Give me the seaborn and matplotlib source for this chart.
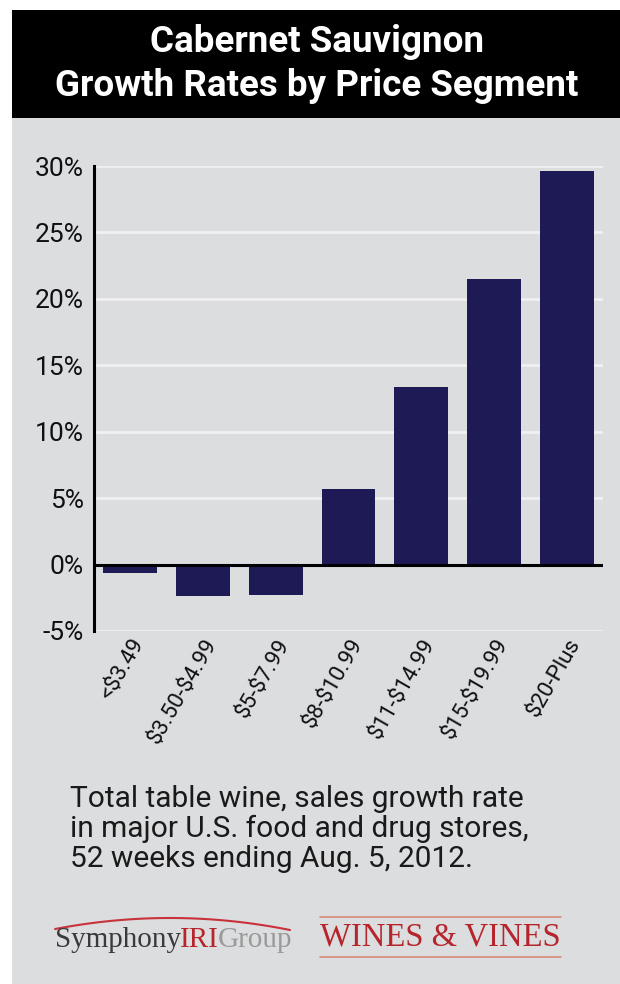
import numpy as np
import pandas as pd
import seaborn as sns
import matplotlib.pyplot as plt
from matplotlib.patches import Rectangle
from matplotlib.lines import Line2D

segments = ["<$3.49", "$3.50-$4.99", "$5-$7.99", "$8-$10.99",
            "$11-$14.99", "$15-$19.99", "$20-Plus"]
growth = [-0.6, -2.4, -2.3, 5.7, 13.4, 21.5, 29.6]
yticks = [-5, 0, 5, 10, 15, 20, 25, 30]

title_lines = "Cabernet Sauvignon\nGrowth Rates by Price Segment"
caption = ("Total table wine, sales growth rate\n"
           "in major U.S. food and drug stores,\n"
           "52 weeks ending Aug. 5, 2012.")

bg = "#DCDDDF"
navy = "#1E1A55"
red = "#B5252B"

sns.set_style("white")
plt.rcParams["font.family"] = ["Roboto", "DejaVu Sans"]
plt.rcParams["text.parse_math"] = False

W, H = 620, 984
fig = plt.figure(figsize=(W / 100, H / 100), dpi=100)
fig.patch.set_facecolor("white")

def fx(px):
    return px / W

def fy(py):
    return 1 - py / H

# gray panel and black header
fig.patches.append(Rectangle((fx(12), 0), 1 - fx(12), fy(10), transform=fig.transFigure,
                             facecolor=bg, edgecolor="none", zorder=-2))
fig.patches.append(Rectangle((fx(12), fy(118)), 1 - fx(12), fy(10) - fy(118),
                             transform=fig.transFigure, facecolor="black",
                             edgecolor="none", zorder=-1))
fig.text(fx(317), fy(64), title_lines, color="white", fontsize=26.5, fontweight="bold",
         ha="center", va="center", linespacing=1.25)

ax = fig.add_axes([fx(94), fy(631), fx(603) - fx(94), fy(166) - fy(631)])
ax.set_facecolor(bg)
df = pd.DataFrame({"segment": segments, "growth": growth})
sns.barplot(data=df, x="segment", y="growth", color=navy, width=0.74,
            saturation=1, ax=ax, zorder=3, edgecolor="none")

ax.set_ylim(-5, 30)
ax.set_xlim(-0.5, len(segments) - 0.5)
ax.set_yticks(yticks)
ax.set_yticklabels([f"{t}%" for t in yticks], fontsize=19, color="#111111")
ax.set_xticks(range(len(segments)))
ax.set_xticklabels(segments, rotation=60, ha="right", va="top", rotation_mode="anchor",
                   fontsize=16, color="#111111")
ax.tick_params(axis="y", length=0, pad=7.5)
ax.tick_params(axis="x", length=0, pad=3)
for t in yticks:
    if t != 0:
        ax.axhline(t, color="#F0F0F1", lw=2, zorder=1)
ax.axhline(0, color="black", lw=2.2, zorder=4)
ax.set_xlabel("")
ax.set_ylabel("")
for s in ["top", "right", "bottom"]:
    ax.spines[s].set_visible(False)
ax.spines["left"].set_color("black")
ax.spines["left"].set_linewidth(2.2)

fig.text(fx(70), fy(829), caption, fontsize=21.5, color="#1A1A1A",
         ha="left", va="center", linespacing=1.08)

# logos
renderer = fig.canvas.get_renderer()
x = fx(55)
for word, col in [("Symphony", "#3A3A3A"), ("IRI", red), ("Group", "#9A9A9A")]:
    t = fig.text(x, fy(940), word, family="Liberation Serif", fontsize=21,
                 color=col, ha="left", va="center")
    bb = t.get_window_extent(renderer)
    x += bb.width / W - 0.002
arc_x = np.linspace(fx(55), fx(290), 60)
arc_y = fy(918) - (fy(918) - fy(930)) * ((arc_x - fx(170)) / (fx(290) - fx(170))) ** 2
fig.lines.append(Line2D(arc_x, arc_y, transform=fig.transFigure, color="#C8323A", lw=1.5))

fig.text(fx(440), fy(937), "WINES & VINES", family="Liberation Serif", fontsize=23.5,
         color=red, ha="center", va="center")
for yy in (917, 957):
    fig.lines.append(Line2D([fx(320), fx(561)], [fy(yy), fy(yy)], transform=fig.transFigure,
                            color="#D98A78", lw=1.2))

fig.savefig("out.png", dpi=100, facecolor=fig.get_facecolor())
